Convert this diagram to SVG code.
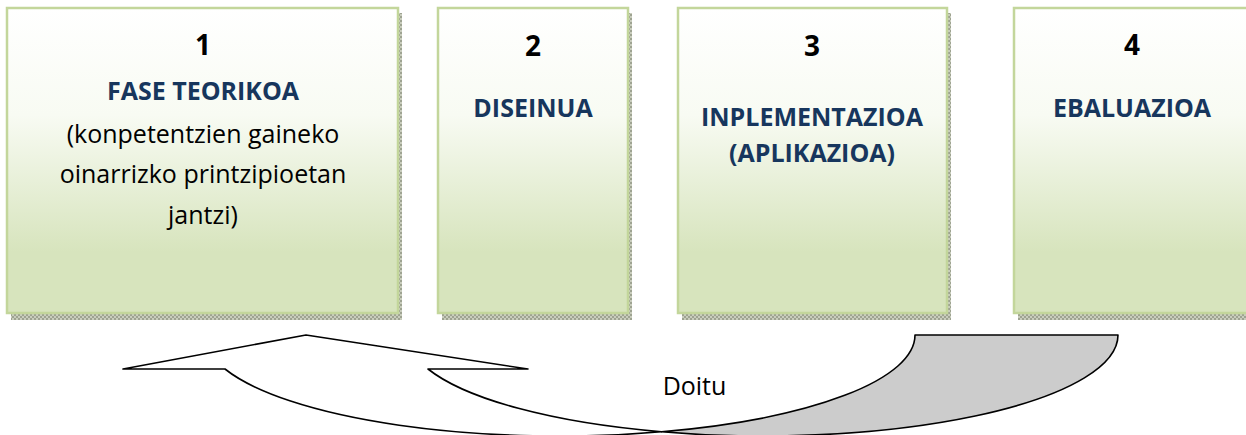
<svg xmlns="http://www.w3.org/2000/svg" width="1246" height="435" viewBox="0 0 1246 435">
  <defs>
    <linearGradient id="boxFill" x1="0" y1="0" x2="0" y2="1">
      <stop offset="0" stop-color="#ffffff"/>
      <stop offset="0.35" stop-color="#f8fbf3"/>
      <stop offset="0.8" stop-color="#d7e4bd"/>
      <stop offset="1" stop-color="#d7e4bd"/>
    </linearGradient>
    <pattern id="shadowTex" width="4" height="4" patternUnits="userSpaceOnUse">
      <rect width="4" height="4" fill="#c9cdbd"/>
      <rect width="2" height="2" fill="#9ea391"/>
      <rect x="2" y="2" width="2" height="2" fill="#9ea391"/>
    </pattern>
  </defs>
  <style>
    .shadow { fill: url(#shadowTex); }
    .box { fill: url(#boxFill); stroke: #c3d69b; stroke-width: 2.5; }
    .num { font-family: "Open Sans", "Liberation Sans", sans-serif; font-weight: bold; font-size: 28px; fill: #000000; text-anchor: middle; }
    .title { font-family: "Open Sans", "Liberation Sans", sans-serif; font-weight: bold; font-size: 25px; fill: #17365d; text-anchor: middle; }
    .body { font-family: "Open Sans", "Liberation Sans", sans-serif; font-size: 25px; fill: #000000; text-anchor: middle; }
    .front { fill: #ffffff; stroke: #000000; stroke-width: 1.6; stroke-linejoin: round; }
    .back { fill: #cccccc; stroke: #000000; stroke-width: 1.6; stroke-linejoin: round; }
  </style>

  <g id="node1">
    <rect class="shadow" x="11" y="13" width="391" height="307"/>
    <rect class="box" x="7" y="8" width="391" height="305"/>
    <text class="num" x="203" y="55">1</text>
    <text class="title" x="203" y="100">FASE TEORIKOA</text>
    <text class="body" x="203" y="143">(konpetentzien gaineko</text>
    <text class="body" x="203" y="183">oinarrizko printzipioetan</text>
    <text class="body" x="203" y="224">jantzi)</text>
  </g>

  <g id="node2">
    <rect class="shadow" x="442" y="13" width="190" height="307"/>
    <rect class="box" x="438" y="8" width="190" height="305"/>
    <text class="num" x="533" y="56">2</text>
    <text class="title" x="533" y="117">DISEINUA</text>
  </g>

  <g id="node3">
    <rect class="shadow" x="682" y="13" width="269" height="307"/>
    <rect class="box" x="678" y="8" width="269" height="305"/>
    <text class="num" x="812" y="56">3</text>
    <text class="title" x="812" y="126">INPLEMENTAZIOA</text>
    <text class="title" x="812" y="162">(APLIKAZIOA)</text>
  </g>

  <g id="node4">
    <rect class="shadow" x="1018" y="13" width="240" height="307"/>
    <rect class="box" x="1014" y="8" width="240" height="305"/>
    <text class="num" x="1132" y="55">4</text>
    <text class="title" x="1132" y="117">EBALUAZIOA</text>
  </g>

  <g id="connectors">
    <path class="back" d="M 661.5 431.8 A 355 101 0 0 0 915 335 L 1118 335 A 355 101 0 0 1 661.5 431.8 Z"/>
    <path class="front" d="M 225 369 A 355 101 0 0 0 661.5 431.8 A 355 101 0 0 1 428 369 L 528 369 L 306 335 L 123 369 Z"/>
    <text class="body" x="694.5" y="395">Doitu</text>
  </g>
</svg>
